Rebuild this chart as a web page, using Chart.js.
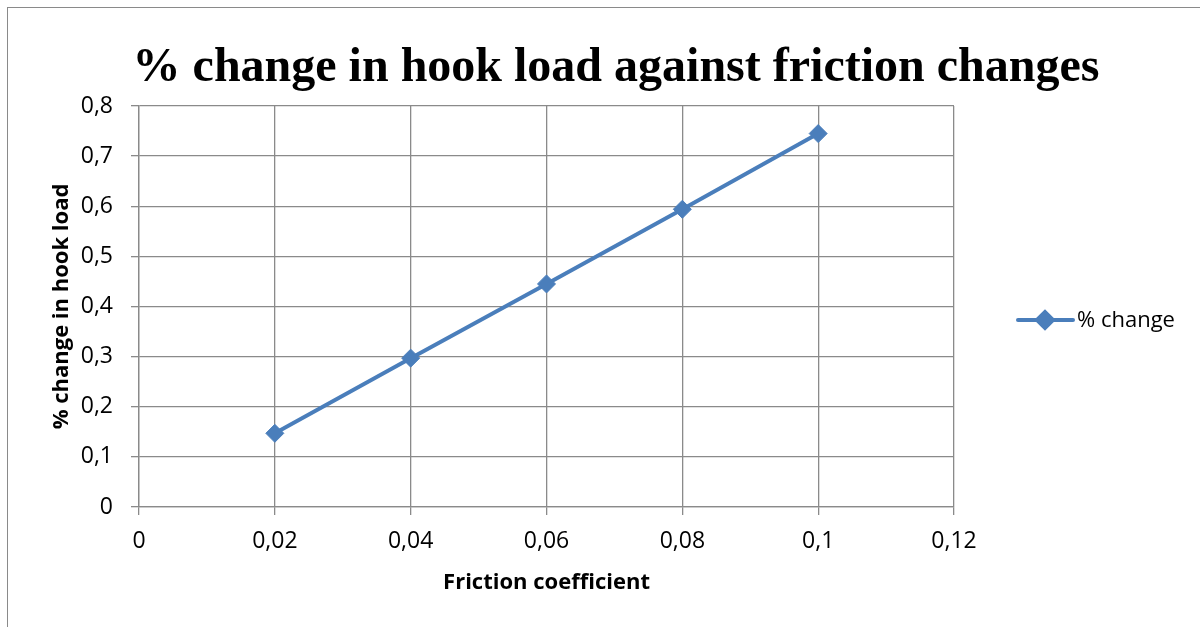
<!DOCTYPE html>
<html>
<head>
<meta charset="utf-8">
<script src="https://cdn.jsdelivr.net/npm/chart.js@4"></script>
<style>
  html, body { margin: 0; padding: 0; background: #fff; }
  #wrap { position: relative; width: 1200px; height: 627px; overflow: hidden; }
  #frame { position: absolute; left: 7px; top: 7px; width: 1210px; height: 640px; border: 1px solid #8a8a8a; box-sizing: border-box; }
  canvas { position: absolute; left: 0; top: 0; }
</style>
</head>
<body>
<div id="wrap">
  <div id="frame"></div>
  <canvas id="hookChart" width="1200" height="627"></canvas>
</div>
<script>
const titleText = '% change in hook load against friction changes';
const seriesLabel = '% change';
const xAxisTitle = 'Friction coefficient';
const yAxisTitle = '% change in hook load';
const frictionCoefficients = [0.02, 0.04, 0.06, 0.08, 0.1];
const percentChange = [0.147, 0.297, 0.445, 0.594, 0.745];

const gridColor = '#8a8a8a';
const lineColor = '#4a7ebb';
const uiFont = '"Open Sans", Lato, sans-serif';

// comma as decimal separator, like the original
const commaFormat = (v, digits) => String(Math.round(v * Math.pow(10, digits)) / Math.pow(10, digits)).replace('.', ',');

// title drawn across the whole picture, a bit right of centre
const titlePlugin = {
  id: 'wideTitle',
  afterDraw(chart) {
    const ctx = chart.ctx;
    ctx.save();
    ctx.font = 'bold 48px "Liberation Serif", "Times New Roman", serif';
    ctx.fillStyle = '#000';
    ctx.textAlign = 'center';
    ctx.textBaseline = 'alphabetic';
    ctx.fillText(titleText, 616, 81);
    ctx.restore();
  }
};

// legend: line with diamond marker, then the label
const legendPlugin = {
  id: 'lineLegend',
  afterDraw(chart) {
    const ctx = chart.ctx;
    const ds = chart.data.datasets[0];
    const x0 = chart.chartArea.right + 64;
    const y = 320;
    ctx.save();
    ctx.strokeStyle = ds.borderColor;
    ctx.lineWidth = ds.borderWidth;
    ctx.lineCap = 'round';
    ctx.beginPath();
    ctx.moveTo(x0, y);
    ctx.lineTo(x0 + 55, y);
    ctx.stroke();
    Chart.helpers.drawPoint(ctx, {
      pointStyle: 'rectRot',
      radius: 8,
      borderWidth: 1
    }, x0 + 27, y);
    ctx.fillStyle = ds.pointBackgroundColor;
    ctx.fill();
    ctx.font = '22px ' + uiFont;
    ctx.fillStyle = '#000';
    ctx.textAlign = 'left';
    ctx.textBaseline = 'middle';
    ctx.fillText(ds.label, x0 + 59, y + 1);
    ctx.restore();
  }
};

new Chart(document.getElementById('hookChart').getContext('2d'), {
  type: 'line',
  data: {
    datasets: [{
      label: seriesLabel,
      data: frictionCoefficients.map((x, i) => ({ x: x, y: percentChange[i] })),
      borderColor: lineColor,
      borderWidth: 4,
      pointStyle: 'rectRot',
      pointRadius: 9,
      pointBackgroundColor: lineColor,
      pointBorderColor: lineColor,
      pointBorderWidth: 1,
      tension: 0
    }]
  },
  options: {
    responsive: false,
    animation: false,
    layout: { padding: { left: 45, right: 246, top: 106, bottom: 29 } },
    plugins: {
      legend: { display: false },
      title: { display: false },
      tooltip: { enabled: false }
    },
    scales: {
      x: {
        type: 'linear',
        min: 0,
        max: 0.12,
        ticks: {
          stepSize: 0.02,
          color: '#000',
          padding: 13,
          font: { family: uiFont, size: 23 },
          callback: v => commaFormat(v, 2)
        },
        grid: { color: gridColor, lineWidth: 1.3, tickLength: 8 },
        border: { color: gridColor, width: 1.3 },
        title: {
          display: true,
          text: xAxisTitle,
          color: '#000',
          font: { family: uiFont, size: 22, weight: 'bold' },
          padding: { top: 6, bottom: 2 }
        },
        afterFit(scale) { scale.height = 91; }
      },
      y: {
        min: 0,
        max: 0.8,
        ticks: {
          stepSize: 0.1,
          color: '#000',
          padding: 18,
          font: { family: uiFont, size: 23 },
          callback: v => commaFormat(v, 1)
        },
        grid: { color: gridColor, lineWidth: 1.3, tickLength: 8 },
        border: { color: gridColor, width: 1.3 },
        title: {
          display: true,
          text: yAxisTitle,
          color: '#000',
          font: { family: uiFont, size: 22, weight: 'bold' },
          padding: { top: 4, bottom: 0 }
        },
        afterFit(scale) { scale.width = 139 - 45; }
      }
    }
  },
  plugins: [titlePlugin, legendPlugin]
});
</script>
</body>
</html>
